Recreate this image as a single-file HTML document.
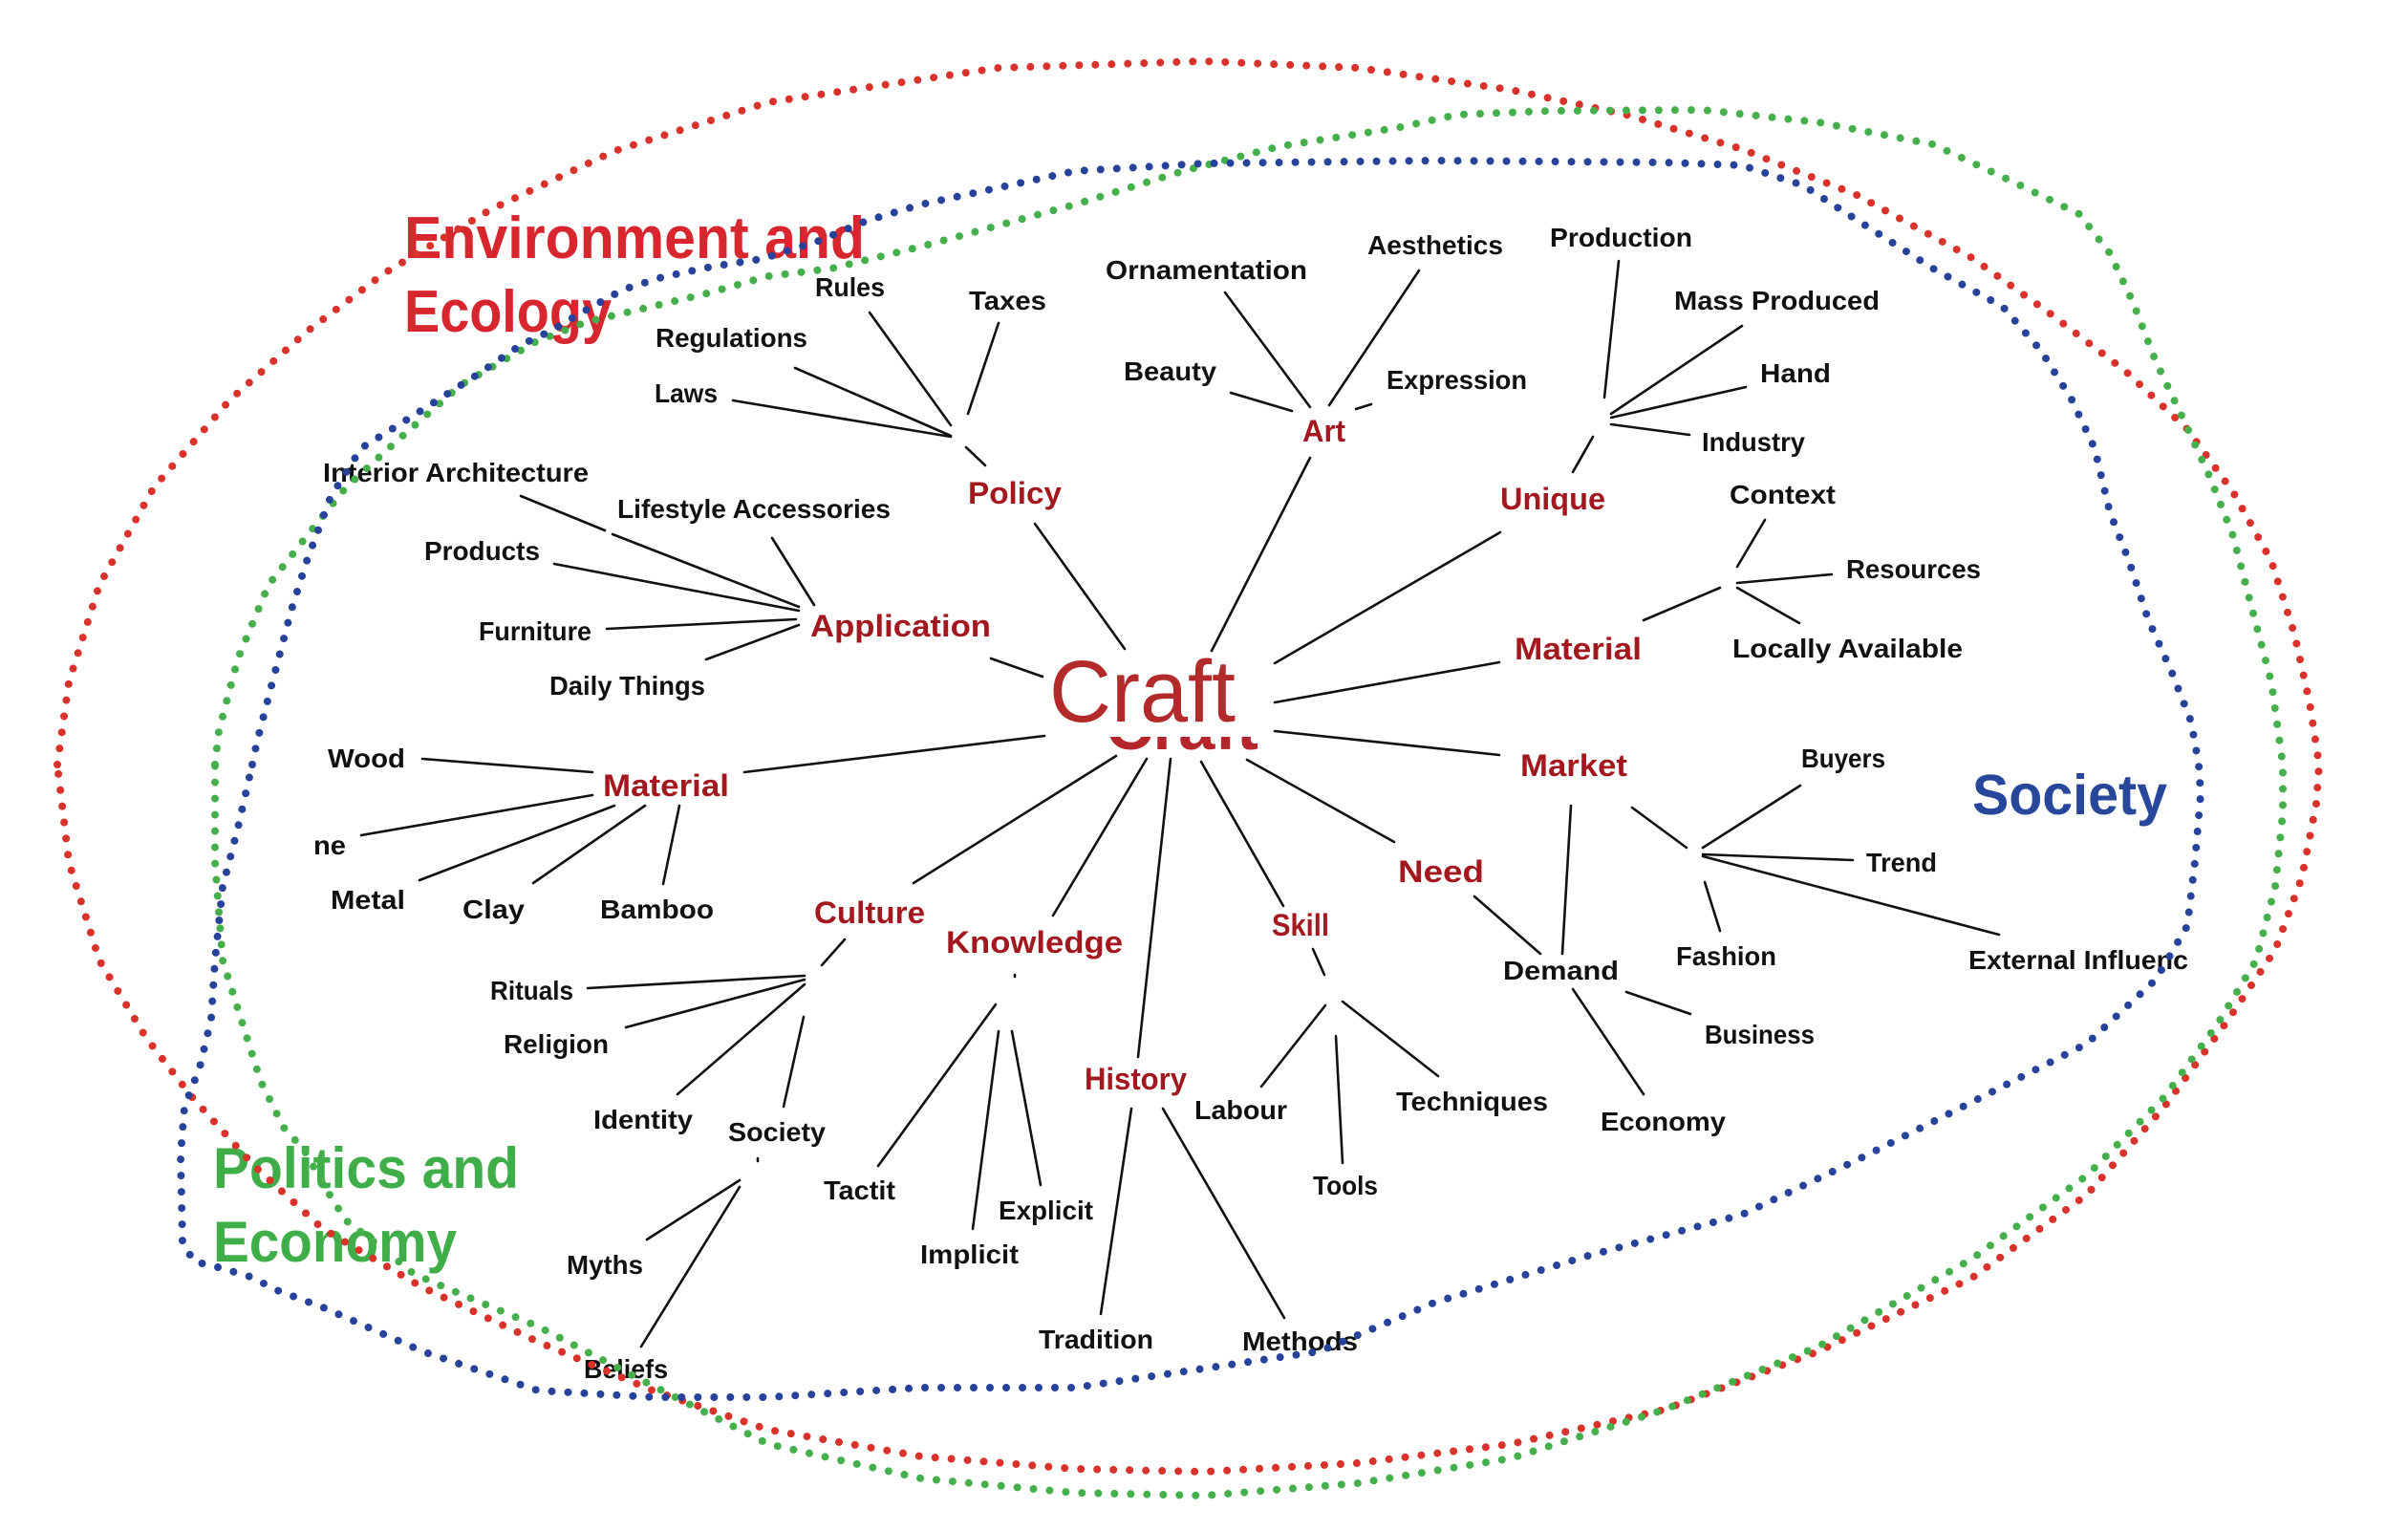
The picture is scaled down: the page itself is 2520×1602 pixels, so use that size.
<!DOCTYPE html>
<html>
<head>
<meta charset="utf-8">
<style>
html,body{margin:0;padding:0;background:#fff;}
svg{display:block;}
.b{font-family:"Liberation Sans",Arial,sans-serif;font-weight:bold;font-size:28px;fill:#111;}
.r{font-family:"Liberation Sans",Arial,sans-serif;font-weight:bold;font-size:32px;fill:#a3181e;}
.t{font-family:"Liberation Sans",Arial,sans-serif;font-weight:bold;}
</style>
</head>
<body>
<svg width="2520" height="1602" viewBox="0 0 2520 1602" xmlns="http://www.w3.org/2000/svg">
<rect width="2520" height="1602" fill="#fff"/>
<defs>
<clipPath id="band"><rect x="1150" y="771" width="180" height="14"/></clipPath>
</defs>

<!-- titles -->
<text class="t" x="423" y="270" font-size="62" fill="#d7262e" textLength="482" lengthAdjust="spacingAndGlyphs">Environment and</text>
<text class="t" x="423" y="347" font-size="62" fill="#d7262e" textLength="217" lengthAdjust="spacingAndGlyphs">Ecology</text>
<text class="t" x="223" y="1243" font-size="60" fill="#3fae49" textLength="320" lengthAdjust="spacingAndGlyphs">Politics and</text>
<text class="t" x="223" y="1320" font-size="60" fill="#3fae49" textLength="255" lengthAdjust="spacingAndGlyphs">Economy</text>
<text class="t" x="2064" y="852" font-size="59" fill="#27479b" textLength="204" lengthAdjust="spacingAndGlyphs">Society</text>

<!-- connectors -->
<g stroke="#111" stroke-width="2.6" stroke-linecap="round" fill="none">
<!-- Policy -->
<line x1="910" y1="327" x2="995" y2="445"/>
<line x1="1045" y1="338" x2="1013" y2="433"/>
<line x1="832" y1="385" x2="995" y2="456"/>
<line x1="767" y1="419" x2="995" y2="457"/>
<line x1="1011" y1="468" x2="1031" y2="487"/>
<line x1="1083" y1="548" x2="1177" y2="679"/>
<!-- Application -->
<line x1="545" y1="519" x2="633" y2="555"/>
<line x1="641" y1="559" x2="836" y2="635"/>
<line x1="808" y1="563" x2="852" y2="633"/>
<line x1="580" y1="590" x2="836" y2="639"/>
<line x1="635" y1="658" x2="833" y2="648"/>
<line x1="739" y1="690" x2="836" y2="654"/>
<line x1="1037" y1="689" x2="1091" y2="708"/>
<!-- Material left -->
<line x1="442" y1="794" x2="620" y2="808"/>
<line x1="378" y1="874" x2="620" y2="832"/>
<line x1="439" y1="921" x2="643" y2="843"/>
<line x1="558" y1="924" x2="675" y2="843"/>
<line x1="711" y1="843" x2="694" y2="925"/>
<line x1="779" y1="808" x2="1093" y2="770"/>
<!-- Art -->
<line x1="1282" y1="306" x2="1371" y2="426"/>
<line x1="1485" y1="283" x2="1391" y2="424"/>
<line x1="1288" y1="411" x2="1352" y2="430"/>
<line x1="1419" y1="428" x2="1435" y2="423"/>
<line x1="1371" y1="479" x2="1268" y2="681"/>
<!-- Unique -->
<line x1="1694" y1="273" x2="1679" y2="416"/>
<line x1="1823" y1="341" x2="1686" y2="433"/>
<line x1="1827" y1="405" x2="1686" y2="437"/>
<line x1="1686" y1="444" x2="1768" y2="455"/>
<line x1="1667" y1="457" x2="1646" y2="494"/>
<line x1="1570" y1="557" x2="1334" y2="694"/>
<!-- Material right -->
<line x1="1569" y1="693" x2="1334" y2="735"/>
<line x1="1847" y1="544" x2="1818" y2="593"/>
<line x1="1917" y1="601" x2="1818" y2="610"/>
<line x1="1818" y1="615" x2="1883" y2="652"/>
<line x1="1720" y1="649" x2="1800" y2="615"/>
<!-- Market -->
<line x1="1334" y1="765" x2="1569" y2="790"/>
<line x1="1644" y1="843" x2="1635" y2="998"/>
<line x1="1708" y1="845" x2="1765" y2="887"/>
<line x1="1884" y1="822" x2="1782" y2="887"/>
<line x1="1782" y1="894" x2="1939" y2="900"/>
<line x1="1782" y1="896" x2="2092" y2="978"/>
<line x1="1784" y1="923" x2="1800" y2="974"/>
<line x1="1702" y1="1038" x2="1769" y2="1061"/>
<line x1="1646" y1="1035" x2="1720" y2="1145"/>
<!-- Need -->
<line x1="1305" y1="795" x2="1459" y2="881"/>
<line x1="1543" y1="938" x2="1612" y2="998"/>
<!-- Skill -->
<line x1="1257" y1="797" x2="1343" y2="948"/>
<line x1="1374" y1="993" x2="1386" y2="1020"/>
<line x1="1387" y1="1052" x2="1320" y2="1137"/>
<line x1="1398" y1="1084" x2="1405" y2="1217"/>
<line x1="1405" y1="1048" x2="1505" y2="1126"/>
<!-- History -->
<line x1="1225" y1="794" x2="1191" y2="1106"/>
<line x1="1184" y1="1160" x2="1152" y2="1375"/>
<line x1="1217" y1="1160" x2="1344" y2="1379"/>
<!-- Knowledge -->
<line x1="1200" y1="794" x2="1102" y2="958"/>
<line x1="1042" y1="1051" x2="919" y2="1220"/>
<line x1="1045" y1="1079" x2="1018" y2="1286"/>
<line x1="1059" y1="1079" x2="1089" y2="1240"/>
<line x1="1062" y1="1020" x2="1062" y2="1022"/>
<!-- Culture -->
<line x1="1168" y1="791" x2="956" y2="924"/>
<line x1="884" y1="983" x2="860" y2="1010"/>
<line x1="615" y1="1034" x2="842" y2="1021"/>
<line x1="655" y1="1075" x2="842" y2="1025"/>
<line x1="709" y1="1145" x2="842" y2="1030"/>
<line x1="841" y1="1064" x2="820" y2="1158"/>
<!-- Society -->
<line x1="793" y1="1212" x2="793" y2="1215"/>
<line x1="774" y1="1235" x2="677" y2="1297"/>
<line x1="774" y1="1242" x2="671" y2="1409"/>
</g>

<!-- hidden bold Craft fragment -->
<text class="t" x="1157" y="784" font-size="69" fill="#b5262a" textLength="160" lengthAdjust="spacingAndGlyphs" clip-path="url(#band)">Craft</text>
<!-- Craft -->
<text x="1098" y="755" font-family="Liberation Sans, Arial, sans-serif" font-size="92" fill="#b22a2a" textLength="195" lengthAdjust="spacingAndGlyphs">Craft</text>

<!-- red labels -->
<text class="r" x="1013" y="527" textLength="98" lengthAdjust="spacingAndGlyphs">Policy</text>
<text class="r" x="848" y="666" textLength="189" lengthAdjust="spacingAndGlyphs">Application</text>
<text class="r" x="1363" y="462" textLength="45" lengthAdjust="spacingAndGlyphs">Art</text>
<text class="r" x="1570" y="533" textLength="110" lengthAdjust="spacingAndGlyphs">Unique</text>
<text class="r" x="1585" y="690" textLength="133" lengthAdjust="spacingAndGlyphs">Material</text>
<text class="r" x="1591" y="812" textLength="112" lengthAdjust="spacingAndGlyphs">Market</text>
<text class="r" x="1463" y="923" textLength="90" lengthAdjust="spacingAndGlyphs">Need</text>
<text class="r" x="1331" y="979" textLength="60" lengthAdjust="spacingAndGlyphs">Skill</text>
<text class="r" x="1135" y="1140" textLength="107" lengthAdjust="spacingAndGlyphs">History</text>
<text class="r" x="990" y="997" textLength="185" lengthAdjust="spacingAndGlyphs">Knowledge</text>
<text class="r" x="852" y="966" textLength="116" lengthAdjust="spacingAndGlyphs">Culture</text>
<text class="r" x="631" y="833" textLength="132" lengthAdjust="spacingAndGlyphs">Material</text>

<!-- black labels -->
<text class="b" x="853" y="310" textLength="73" lengthAdjust="spacingAndGlyphs">Rules</text>
<text class="b" x="1014" y="324" textLength="81" lengthAdjust="spacingAndGlyphs">Taxes</text>
<text class="b" x="686" y="363" textLength="159" lengthAdjust="spacingAndGlyphs">Regulations</text>
<text class="b" x="685" y="421" textLength="66" lengthAdjust="spacingAndGlyphs">Laws</text>
<text class="b" x="338" y="504" textLength="278" lengthAdjust="spacingAndGlyphs">Interior Architecture</text>
<text class="b" x="646" y="542" textLength="286" lengthAdjust="spacingAndGlyphs">Lifestyle Accessories</text>
<text class="b" x="444" y="586" textLength="121" lengthAdjust="spacingAndGlyphs">Products</text>
<text class="b" x="501" y="670" textLength="118" lengthAdjust="spacingAndGlyphs">Furniture</text>
<text class="b" x="575" y="727" textLength="163" lengthAdjust="spacingAndGlyphs">Daily Things</text>
<text class="b" x="1157" y="292" textLength="211" lengthAdjust="spacingAndGlyphs">Ornamentation</text>
<text class="b" x="1431" y="266" textLength="142" lengthAdjust="spacingAndGlyphs">Aesthetics</text>
<text class="b" x="1622" y="258" textLength="149" lengthAdjust="spacingAndGlyphs">Production</text>
<text class="b" x="1752" y="324" textLength="215" lengthAdjust="spacingAndGlyphs">Mass Produced</text>
<text class="b" x="1842" y="400" textLength="74" lengthAdjust="spacingAndGlyphs">Hand</text>
<text class="b" x="1451" y="407" textLength="147" lengthAdjust="spacingAndGlyphs">Expression</text>
<text class="b" x="1781" y="472" textLength="108" lengthAdjust="spacingAndGlyphs">Industry</text>
<text class="b" x="1176" y="398" textLength="97" lengthAdjust="spacingAndGlyphs">Beauty</text>
<text class="b" x="1810" y="527" textLength="111" lengthAdjust="spacingAndGlyphs">Context</text>
<text class="b" x="1932" y="605" textLength="141" lengthAdjust="spacingAndGlyphs">Resources</text>
<text class="b" x="1813" y="688" textLength="241" lengthAdjust="spacingAndGlyphs">Locally Available</text>
<text class="b" x="1885" y="803" textLength="88" lengthAdjust="spacingAndGlyphs">Buyers</text>
<text class="b" x="1953" y="912" textLength="74" lengthAdjust="spacingAndGlyphs">Trend</text>
<text class="b" x="1754" y="1010" textLength="105" lengthAdjust="spacingAndGlyphs">Fashion</text>
<text class="b" x="2060" y="1014" textLength="230" lengthAdjust="spacingAndGlyphs">External Influenc</text>
<text class="b" x="1573" y="1025" textLength="121" lengthAdjust="spacingAndGlyphs">Demand</text>
<text class="b" x="1784" y="1092" textLength="115" lengthAdjust="spacingAndGlyphs">Business</text>
<text class="b" x="1675" y="1183" textLength="131" lengthAdjust="spacingAndGlyphs">Economy</text>
<text class="b" x="1461" y="1162" textLength="159" lengthAdjust="spacingAndGlyphs">Techniques</text>
<text class="b" x="1250" y="1171" textLength="97" lengthAdjust="spacingAndGlyphs">Labour</text>
<text class="b" x="1374" y="1250" textLength="68" lengthAdjust="spacingAndGlyphs">Tools</text>
<text class="b" x="1300" y="1413" textLength="121" lengthAdjust="spacingAndGlyphs">Methods</text>
<text class="b" x="1087" y="1411" textLength="120" lengthAdjust="spacingAndGlyphs">Tradition</text>
<text class="b" x="963" y="1322" textLength="103" lengthAdjust="spacingAndGlyphs">Implicit</text>
<text class="b" x="1045" y="1276" textLength="99" lengthAdjust="spacingAndGlyphs">Explicit</text>
<text class="b" x="862" y="1255" textLength="75" lengthAdjust="spacingAndGlyphs">Tactit</text>
<text class="b" x="762" y="1194" textLength="102" lengthAdjust="spacingAndGlyphs">Society</text>
<text class="b" x="621" y="1181" textLength="104" lengthAdjust="spacingAndGlyphs">Identity</text>
<text class="b" x="527" y="1102" textLength="110" lengthAdjust="spacingAndGlyphs">Religion</text>
<text class="b" x="513" y="1046" textLength="87" lengthAdjust="spacingAndGlyphs">Rituals</text>
<text class="b" x="593" y="1333" textLength="80" lengthAdjust="spacingAndGlyphs">Myths</text>
<text class="b" x="611" y="1442" textLength="88" lengthAdjust="spacingAndGlyphs">Beliefs</text>
<text class="b" x="343" y="803" textLength="81" lengthAdjust="spacingAndGlyphs">Wood</text>
<text class="b" x="328" y="894" textLength="34" lengthAdjust="spacingAndGlyphs">ne</text>
<text class="b" x="346" y="951" textLength="78" lengthAdjust="spacingAndGlyphs">Metal</text>
<text class="b" x="484" y="961" textLength="65" lengthAdjust="spacingAndGlyphs">Clay</text>
<text class="b" x="628" y="961" textLength="119" lengthAdjust="spacingAndGlyphs">Bamboo</text>

<!-- dotted loops -->
<g fill="none" stroke-width="8" stroke-linecap="round" stroke-linejoin="round" stroke-dasharray="0 17">
<polygon stroke="#d8322b" points="60,800 72,714 104,612 161,510 241,418 321,347 402,286 514,219 643,158 804,107 1045,71 1260,64 1421,71 1581,94 1702,120 1823,156 1943,204 2064,270 2144,327 2224,388 2289,449 2337,515 2377,587 2401,663 2417,735 2427,800 2424,841 2409,918 2381,994 2329,1071 2265,1158 2184,1250 2064,1337 1903,1414 1742,1475 1581,1511 1421,1531 1260,1540 1125,1537 964,1524 804,1496 683,1455 563,1404 442,1347 338,1286 265,1219 201,1148 153,1086 104,1005 72,902"/>
<polygon stroke="#45b04b" points="225,800 229,765 249,689 281,612 321,561 362,510 418,459 482,403 560,358 613,337 677,322 740,307 804,289 870,281 964,258 1125,214 1238,179 1340,153 1461,134 1525,120 1622,116 1782,115 1903,128 2023,151 2104,189 2176,224 2208,265 2232,316 2256,378 2285,439 2313,500 2337,561 2357,638 2377,714 2389,800 2389,851 2381,928 2361,1005 2321,1071 2265,1148 2184,1230 2064,1317 1903,1409 1742,1475 1581,1526 1421,1552 1260,1565 1125,1562 964,1547 804,1511 683,1450 563,1388 482,1354 433,1333 405,1310 362,1277 343,1247 318,1203 297,1180 273,1132 249,1056 233,1005 225,902"/>
<polygon stroke="#27429a" points="264,800 269,776 285,714 305,638 321,587 346,520 378,469 434,434 498,393 545,361 577,346 607,328 652,303 693,290 745,279 797,271 857,252 907,231 964,214 1125,179 1260,171 1501,168 1742,170 1823,173 1887,194 1943,230 2023,281 2096,321 2136,367 2168,418 2192,469 2208,536 2228,587 2248,648 2273,704 2293,755 2301,800 2303,831 2297,902 2289,969 2256,1025 2184,1092 2064,1153 1943,1214 1823,1271 1662,1314 1501,1363 1381,1414 1260,1432 1125,1452 964,1452 884,1457 804,1462 683,1462 563,1455 442,1414 338,1368 292,1351 262,1336 232,1327 203,1320 191,1300 189,1209 193,1158 209,1117 221,1066 225,1005 233,928 249,866"/>
</g>
</svg>
</body>
</html>
